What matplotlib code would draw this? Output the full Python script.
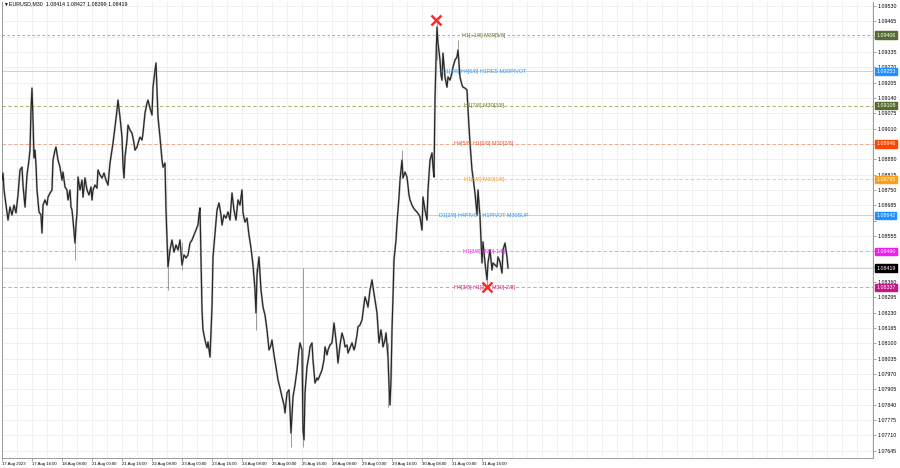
import matplotlib
matplotlib.use("Agg")
import matplotlib.pyplot as plt
import matplotlib.transforms as mtransforms
import numpy as np

plt.rcParams['font.family'] = ['Liberation Sans', 'DejaVu Sans']

# header of the chart window
symbol_title = "EURUSD,M30  1.08414 1.08427 1.08399 1.08419"

# M30 bars (index from 17 Aug 00:00) and the traced close path
bars = [0, 1, 2, 4, 6, 8, 10, 12, 14, 16,
        18, 20, 21, 23, 25, 27, 28, 29, 30, 31,
        32, 33, 34, 35, 37, 39, 40, 41, 43, 45,
        46, 48, 50, 51, 53, 54, 56, 58, 60, 61,
        63, 65, 66, 68, 69, 70, 71, 73, 74, 75,
        76, 78, 80, 81, 83, 85, 87, 89, 90, 91,
        93, 95, 96, 98, 100, 102, 104, 106, 108, 110,
        111, 113, 115, 116, 118, 120, 121, 122, 123, 125,
        126, 128, 130, 132, 133, 135, 137, 138, 140, 141,
        143, 145, 146, 148, 150, 151, 153, 154, 155, 156,
        158, 160, 161, 163, 164, 165, 166, 168, 170, 172,
        174, 176, 178, 180, 182, 184, 186, 188, 190, 192,
        194, 196, 197, 198, 199, 200, 201, 203, 205, 206,
        208, 210, 211, 213, 215, 217, 219, 220, 222, 224,
        226, 228, 230, 232, 234, 236, 238, 240, 241, 243,
        245, 247, 249, 251, 253, 254, 255, 257, 259, 261,
        263, 265, 267, 269, 270, 272, 274, 276, 278, 280,
        282, 283, 285, 287, 288, 289, 291, 293, 295, 297,
        298, 300, 301, 302, 303, 305, 307, 308, 310, 311,
        313, 315, 316, 318, 320, 322, 323, 325, 326, 328,
        330, 332, 334, 335, 336, 338, 340, 342, 343, 345,
        346, 348, 350, 352, 353, 355, 356, 358, 360, 362,
        363, 365, 366, 368, 370, 371, 373, 375, 377, 379,
        380, 381, 383, 384, 386, 387, 388, 389, 390, 391,
        392, 394, 395, 397, 398, 400, 401, 403, 405, 407,
        408, 410, 411, 413, 415, 417, 418, 420, 421, 423,
        425, 426, 428, 430, 431, 432, 433, 434, 435, 436,
        438, 439, 440, 441, 443, 445, 446, 448, 450, 451,
        453, 455, 456, 458, 460, 461, 463, 465, 466, 468,
        470, 471, 473, 475, 476, 478, 479, 480, 481, 483,
        485, 486, 488, 490, 491, 493, 495, 496, 498, 500,
        501, 503, 505, 506]

close = [1.08792, 1.08822, 1.08750, 1.08686, 1.08623, 1.08678, 1.08644, 1.08686, 1.08653, 1.08729,
         1.08835, 1.08847, 1.08771, 1.08678, 1.08814, 1.08877, 1.08919, 1.09089, 1.09182, 1.09047,
         1.08886, 1.08919, 1.08856, 1.08750, 1.08657, 1.08644, 1.08568, 1.08686, 1.08708, 1.08686,
         1.08720, 1.08737, 1.08750, 1.08877, 1.08919, 1.08932, 1.08877, 1.08847, 1.08792, 1.08826,
         1.08763, 1.08750, 1.08708, 1.08750, 1.08678, 1.08665, 1.08623, 1.08525, 1.08602, 1.08653,
         1.08805, 1.08750, 1.08792, 1.08720, 1.08801, 1.08750, 1.08729, 1.08763, 1.08708, 1.08750,
         1.08771, 1.08758, 1.08835, 1.08814, 1.08801, 1.08822, 1.08792, 1.08771, 1.08864, 1.08919,
         1.08949, 1.09017, 1.09089, 1.09131, 1.09059, 1.08974, 1.08856, 1.08801, 1.08890, 1.08962,
         1.09025, 1.09004, 1.08991, 1.08949, 1.08919, 1.08932, 1.08962, 1.08974, 1.08962, 1.08991,
         1.09076, 1.09119, 1.09131, 1.09097, 1.09068, 1.09186, 1.09258, 1.09288, 1.09174, 1.09059,
         1.08974, 1.08877, 1.08847, 1.08864, 1.08665, 1.08538, 1.08424, 1.08496, 1.08538, 1.08487,
         1.08517, 1.08496, 1.08538, 1.08432, 1.08475, 1.08462, 1.08475, 1.08525, 1.08538, 1.08559,
         1.08580, 1.08602, 1.08644, 1.08674, 1.08453, 1.08242, 1.08157, 1.08114, 1.08081, 1.08106,
         1.08042, 1.08254, 1.08466, 1.08568, 1.08665, 1.08695, 1.08644, 1.08602, 1.08644, 1.08631,
         1.08657, 1.08623, 1.08737, 1.08665, 1.08623, 1.08708, 1.08686, 1.08750, 1.08653, 1.08614,
         1.08631, 1.08559, 1.08504, 1.08432, 1.08326, 1.08229, 1.08390, 1.08466, 1.08326, 1.08254,
         1.08220, 1.08157, 1.08072, 1.08093, 1.08114, 1.08051, 1.08000, 1.07945, 1.07911, 1.07873,
         1.07839, 1.07805, 1.07890, 1.07903, 1.07818, 1.07720, 1.07873, 1.07924, 1.07987, 1.08072,
         1.08102, 1.08072, 1.07733, 1.07691, 1.07890, 1.08000, 1.08051, 1.08085, 1.08102, 1.08030,
         1.07932, 1.07953, 1.07945, 1.07966, 1.07987, 1.08030, 1.08085, 1.08051, 1.08072, 1.08093,
         1.08102, 1.08186, 1.08114, 1.08072, 1.08017, 1.08093, 1.08144, 1.08114, 1.08085, 1.08093,
         1.08059, 1.08081, 1.08102, 1.08072, 1.08085, 1.08136, 1.08170, 1.08178, 1.08199, 1.08263,
         1.08297, 1.08271, 1.08254, 1.08326, 1.08369, 1.08339, 1.08284, 1.08229, 1.08102, 1.08157,
         1.08127, 1.08085, 1.08114, 1.08144, 1.08042, 1.07924, 1.07839, 1.07945, 1.08157, 1.08297,
         1.08453, 1.08538, 1.08610, 1.08720, 1.08792, 1.08877, 1.08801, 1.08826, 1.08805, 1.08729,
         1.08708, 1.08686, 1.08678, 1.08665, 1.08657, 1.08644, 1.08636, 1.08580, 1.08720, 1.08665,
         1.08623, 1.08750, 1.08877, 1.08907, 1.08847, 1.08805, 1.09131, 1.09301, 1.09441, 1.09373,
         1.09301, 1.09237, 1.09216, 1.09330, 1.09229, 1.09186, 1.09229, 1.09216, 1.09246, 1.09271,
         1.09301, 1.09314, 1.09343, 1.09229, 1.09195, 1.09186, 1.09182, 1.09174, 1.09089, 1.08949,
         1.08835, 1.08805, 1.08737, 1.08644, 1.08750, 1.08636, 1.08538, 1.08441, 1.08530, 1.08441,
         1.08369, 1.08441, 1.08496, 1.08411, 1.08441, 1.08432, 1.08424, 1.08466, 1.08445, 1.08398,
         1.08496, 1.08525, 1.08466, 1.08419]

# long shadows that stick out of the path
wick_bar = [73, 166, 180, 254, 289, 301, 386, 400, 435, 456, 485]
wick_hi = [1.08602, 1.08500, 1.08530, 1.08420, 1.07760, 1.08419, 1.08100, 1.08919, 1.09470, 1.09386, 1.08420]
wick_lo = [1.08453, 1.08326, 1.08411, 1.08157, 1.07661, 1.07661, 1.07831, 1.08800, 1.09300, 1.09300, 1.08348]

# murrey-math style levels
level_price = [1.09559, 1.09406, 1.09253, 1.09108, 1.08946, 1.08795, 1.08642, 1.08490, 1.08337]
level_text = ["H4[7/8] H1[+2/8] M30[6/8]", "H1[+1/8] M30[5/8]", "D1[3/8] H4[6/8] H1RES M30PIVOT",
              "H1[7/8] M30[3/8]", "H4[5/8] H1[6/8] M30[2/8]", "H1[5/8] M30[1/8]",
              "D1[2/8] H4PIVOT H1PIVOT M30SUP", "H1[3/8] M30[-1/8]", "H4[3/8] H1[2/8] M30[-2/8]"]
text_col = ['#f0603a', '#6e7a2a', '#2b8fe8', '#6e7a2a', '#f0522a', '#f39a1a', '#2b8fe8', '#e628e6', '#c2207a']
line_col = ['#f0906a', '#9aa25a', '#a9cdf2', '#9aa25a', '#f09a7a', '#f7c27a', '#a9cdf2', '#f08af0', '#de80b8']
line_ls = ['--', (0, (3, 3)), '-', (0, (4, 3)), (0, (4, 3)), (0, (4, 3)), '-', (0, (4, 3)), (0, (4, 3))]
box_col = [None, '#556b2f', '#1e90ff', '#556b2f', '#ff4500', '#ff9c1a', '#1e90ff', '#f01cf0', '#c71585']

bid_price = 1.08419

mark_bar = [434, 485]
mark_price = [1.09470, 1.08337]

time_labels = ["17 Aug 2023", "17 Aug 16:00", "18 Aug 08:00", "21 Aug 00:00", "21 Aug 16:00",
               "22 Aug 08:00", "23 Aug 00:00", "23 Aug 16:00", "24 Aug 08:00", "25 Aug 00:00",
               "25 Aug 16:00", "28 Aug 08:00", "29 Aug 00:00", "29 Aug 16:00", "30 Aug 08:00",
               "31 Aug 00:00", "31 Aug 16:00"]

fig = plt.figure(figsize=(9, 4.68), dpi=100)
ax = fig.add_axes([2 / 900, 10 / 468, 871 / 900, 456 / 468])
ax.set_xlim(0, 871)
ax.set_ylim(1.07614, 1.09547)

# grid + scale labels (labels sitting under a price box are not drawn, like the terminal)
box_prices = [p for p, c in zip(level_price, box_col) if c is not None] + [bid_price]
price_ticks = np.round(1.09530 - 0.00065 * np.arange(30), 5)
tick_txt = []
for t in price_ticks:
    hidden = any(-0.0001 <= b - t <= 0.00023 for b in box_prices)
    tick_txt.append("" if hidden else f"{t:.5f}")
ax.set_yticks(price_ticks)
ax.set_yticklabels(tick_txt)
ax.set_xticks(np.arange(len(time_labels)) * 30)
ax.set_xticklabels(time_labels, ha='left')
ax.set_xticks(np.arange(0, 871, 15), minor=True)
ax.grid(True, which='both', color='#ebebeb', lw=0.5, zorder=0)
ax.set_axisbelow(True)

ax.yaxis.tick_right()
ax.tick_params(axis='y', which='major', labelsize=3.8, length=2, width=0.5, pad=1.5, color='#888888')
ax.tick_params(axis='x', which='major', labelsize=3.1, length=2, width=0.5, pad=1.0, color='#888888')
ax.tick_params(axis='x', which='minor', length=0)

for s in ['left', 'right', 'bottom']:
    ax.spines[s].set_color('#9a9a9a')
    ax.spines[s].set_linewidth(0.7)
ax.spines['top'].set_visible(False)

# levels
trans = mtransforms.blended_transform_factory(ax.transAxes, ax.transData)
for p, txt, tc, lc, ls, bc in zip(level_price, level_text, text_col, line_col, line_ls, box_col):
    ax.axhline(p, color=lc, ls=ls, lw=0.6, zorder=1)
    ax.text(482, p, txt, color=tc, fontsize=3.9, ha='center', va='center', zorder=5, clip_on=True)
    if bc is not None:
        ax.text(1.0035, p, f"{p:.5f}", transform=trans, fontsize=3.8, color='white',
                ha='left', va='center', zorder=6, clip_on=False,
                bbox=dict(boxstyle='square,pad=0.25', fc=bc, ec=bc))

ax.axhline(bid_price, color='#cccccc', lw=0.6, zorder=1)
ax.text(1.0035, bid_price, f"{bid_price:.5f}", transform=trans, fontsize=3.8, color='white',
        ha='left', va='center', zorder=6, clip_on=False,
        bbox=dict(boxstyle='square,pad=0.25', fc='black', ec='black'))

# price path
ax.vlines(wick_bar, wick_lo, wick_hi, color='#8c8c8c', lw=0.6, zorder=2)
ax.plot(bars, close, color='#b8b8b8', lw=1.5, zorder=2)
ax.plot(bars, close, color='#262626', lw=0.85, zorder=3)

ax.plot(mark_bar, mark_price, 'x', color='#ff2a2a', ms=7, mew=1.8, zorder=7)

fig.text(3 / 900, 1 - 4 / 468, "▼", fontsize=3.5, va='center', ha='left')
fig.text(9 / 900, 1 - 4 / 468, symbol_title, fontsize=3.8, va='center', ha='left')

fig.savefig("out.png", dpi=100)
